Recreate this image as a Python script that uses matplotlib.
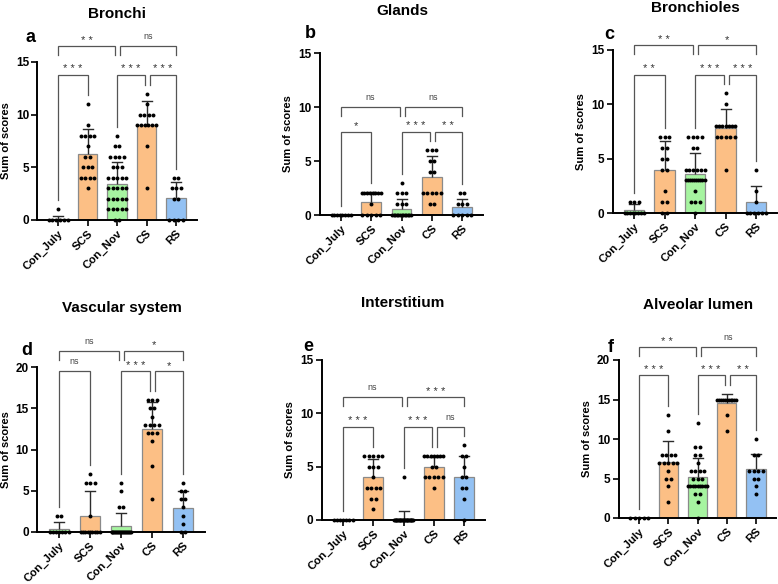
import matplotlib
matplotlib.use('Agg')
import matplotlib.pyplot as plt
import numpy as np
from collections import Counter

plt.rcParams['font.family'] = ['Liberation Sans', 'DejaVu Sans']

W, H, DPI = 778, 584, 100

groups = ['Con_July', 'SCS', 'Con_Nov', 'CS', 'RS']
bar_colors = ['#A6F4A0', '#FCBF85', '#A6F4A0', '#FCBF85', '#93C1F3']

# ---------------- data ----------------
bronchi_title = 'Bronchi'
bronchi_points = [
    [1, 0, 0, 0, 0, 0, 0],
    [11, 9, 8, 8, 8, 8, 7, 6, 6, 5, 5, 5, 4, 4, 4, 4, 3],
    [8, 7, 7, 6, 6, 6, 6, 5, 5, 5, 4, 4, 4, 4, 4, 3, 3, 3, 3, 3,
     2, 2, 2, 2, 2, 1, 1, 1, 1, 1, 0, 0],
    [12, 11, 10, 10, 10, 10, 9, 9, 9, 9, 9, 9, 7, 3],
    [4, 4, 3, 3, 3, 2, 2, 0, 0, 0, 0],
]
bronchi_mean = [0.13, 6.3, 3.4, 9.05, 2.1]
bronchi_sd = [0.27, 2.3, 2.15, 2.2, 1.55]
bronchi_sig_low = [(0, 1, '***'), (2, 3, '***'), (3, 4, '***')]
bronchi_sig_top = [(0, 2, '**'), (2, 4, 'ns')]

glands_title = 'Glands'
glands_points = [
    [0, 0, 0, 0, 0, 0, 0, 0],
    [2, 2, 2, 2, 2, 2, 2, 2, 1, 0, 0, 0, 0, 0],
    [3, 2, 2, 2, 1, 1, 1, 0, 0, 0, 0, 0, 0, 0, 0, 0, 0, 0, 0, 0],
    [6, 6, 6, 5, 5, 4, 4, 2, 2, 2, 2, 2, 1, 1],
    [2, 2, 1, 1, 1, 0, 0, 0, 0, 0],
]
glands_mean = [0.0, 1.23, 0.6, 3.5, 0.7]
glands_sd = [0.0, 0.87, 0.88, 2.0, 0.8]
glands_sig_low = [(0, 1, '*'), (2, 3, '***'), (3, 4, '**')]
glands_sig_top = [(0, 2, 'ns'), (2, 4, 'ns')]

bronchioles_title = 'Bronchioles'
bronchioles_points = [
    [1, 1, 1, 0, 0, 0, 0, 0, 0, 0, 0],
    [7, 7, 7, 6, 6, 5, 5, 4, 4, 2, 1, 1, 0, 0],
    [7, 7, 7, 7, 6, 6, 4, 4, 4, 4, 4, 4, 3, 3, 3, 3, 3, 3, 3, 3, 3, 3,
     2, 1, 1, 1, 0],
    [11, 10, 8, 8, 8, 8, 8, 8, 8, 7, 7, 7, 7, 7, 4],
    [4, 2, 1, 0, 0, 0, 0, 0, 0],
]
bronchioles_mean = [0.28, 3.93, 3.6, 7.85, 1.0]
bronchioles_sd = [0.52, 2.67, 1.95, 1.69, 1.5]
bronchioles_sig_low = [(0, 1, '**'), (2, 3, '***'), (3, 4, '***')]
bronchioles_sig_top = [(0, 2, '**'), (2, 4, '*')]

vascular_title = 'Vascular system'
vascular_points = [
    [2, 2, 0, 0, 0, 0, 0, 0, 0],
    [7, 6, 6, 6, 2, 0, 0, 0, 0, 0, 0, 0, 0, 0],
    [6, 5, 3, 3, 0, 0, 0, 0, 0, 0, 0, 0, 0, 0, 0, 0, 0, 0, 0, 0, 0, 0, 0, 0, 0],
    [16, 16, 16, 15, 15, 14, 13, 13, 13, 13, 12, 12, 12, 11, 8, 4],
    [6, 5, 5, 4, 4, 3, 2, 1, 0, 0],
]
vascular_mean = [0.4, 1.93, 0.68, 12.48, 2.87]
vascular_sd = [0.85, 3.0, 1.66, 3.3, 2.06]
vascular_sig_low = [(0, 1, 'ns'), (2, 3, '***'), (3, 4, '*')]
vascular_sig_top = [(0, 2, 'ns'), (2, 4, '*')]

interstitium_title = 'Interstitium'
interstitium_points = [
    [0, 0, 0, 0, 0, 0, 0],
    [6, 6, 6, 6, 6, 5, 5, 5, 4, 3, 3, 3, 3, 2, 2, 1],
    [4, 0, 0, 0, 0, 0, 0, 0, 0, 0, 0, 0, 0, 0, 0, 0, 0, 0, 0, 0, 0, 0, 0, 0, 0, 0],
    [6, 6, 6, 6, 6, 6, 6, 5, 5, 4, 4, 4, 4, 4, 3],
    [7, 6, 6, 5, 4, 4, 3, 3, 2, 0],
]
interstitium_mean = [0.0, 4.05, 0.12, 5.0, 4.0]
interstitium_sd = [0.0, 1.65, 0.7, 0.95, 2.0]
interstitium_sig_low = [(0, 1, '***'), (2, 3, '***'), (3, 4, 'ns')]
interstitium_sig_top = [(0, 2, 'ns'), (2, 4, '***')]

alveolar_title = 'Alveolar lumen'
alveolar_points = [
    [0, 0, 0, 0, 0],
    [13, 11, 8, 8, 8, 8, 7, 7, 7, 7, 7, 6, 5, 5, 4, 2],
    [12, 9, 9, 8, 8, 7, 6, 6, 6, 6, 5, 5, 5, 4, 4, 4, 4, 4, 4, 4, 4, 4,
     3, 3, 2, 0],
    [15, 15, 15, 15, 15, 15, 15, 15, 15, 15, 15, 13, 11],
    [10, 8, 8, 6, 6, 6, 6, 5, 5, 4, 3],
]
alveolar_mean = [0.0, 7.05, 5.23, 14.56, 6.15]
alveolar_sd = [0.0, 2.7, 2.37, 1.15, 2.0]
alveolar_sig_low = [(0, 1, '***'), (2, 3, '***'), (3, 4, '**')]
alveolar_sig_top = [(0, 2, '**'), (2, 4, 'ns')]

# ---------------- layout (pixels) ----------------
panels = [
    dict(letter='a', title=bronchi_title, pts=bronchi_points, mean=bronchi_mean, sd=bronchi_sd,
         low=bronchi_sig_low, top=bronchi_sig_top, ymax=15, yticks=[0, 5, 10, 15],
         c0=58, sp=29.5, y0=220, ytop=62, low_y=13.8, top_y=16.5,
         title_xy=(117, 14), letter_xy=(30, 42)),
    dict(letter='b', title=glands_title, pts=glands_points, mean=glands_mean, sd=glands_sd,
         low=glands_sig_low, top=glands_sig_top, ymax=15, yticks=[0, 5, 10, 15],
         c0=341, sp=30.25, y0=215, ytop=53, low_y=7.7, top_y=10.0,
         title_xy=(402, 11), letter_xy=(310, 38)),
    dict(letter='c', title=bronchioles_title, pts=bronchioles_points, mean=bronchioles_mean,
         sd=bronchioles_sd, low=bronchioles_sig_low, top=bronchioles_sig_top, ymax=15,
         yticks=[0, 5, 10, 15], c0=634, sp=30.5, y0=213, ytop=50, low_y=12.7, top_y=15.45,
         title_xy=(695, 8), letter_xy=(609, 39)),
    dict(letter='d', title=vascular_title, pts=vascular_points, mean=vascular_mean, sd=vascular_sd,
         low=vascular_sig_low, top=vascular_sig_top, ymax=20, yticks=[0, 5, 10, 15, 20],
         c0=59, sp=31, y0=532, ytop=367, low_y=19.5, top_y=22.0,
         title_xy=(122, 308), letter_xy=(27, 355)),
    dict(letter='e', title=interstitium_title, pts=interstitium_points, mean=interstitium_mean,
         sd=interstitium_sd, low=interstitium_sig_low, top=interstitium_sig_top, ymax=15,
         yticks=[0, 5, 10, 15], c0=343, sp=30.25, y0=520, ytop=360, low_y=8.75, top_y=11.5,
         title_xy=(403, 303), letter_xy=(308, 351)),
    dict(letter='f', title=alveolar_title, pts=alveolar_points, mean=alveolar_mean, sd=alveolar_sd,
         low=alveolar_sig_low, top=alveolar_sig_top, ymax=20, yticks=[0, 5, 10, 15, 20],
         c0=639, sp=29.25, y0=518, ytop=360, low_y=18.1, top_y=21.6,
         title_xy=(698, 305), letter_xy=(611, 352)),
]

fig = plt.figure(figsize=(W / DPI, H / DPI), dpi=DPI)
fig.patch.set_facecolor('white')

XL, XR = -0.7, 4.7
BAR_W = 0.66
LINE_C = '#555555'

for p in panels:
    sp = p['sp']
    left_px = p['c0'] + XL * sp
    width_px = (XR - XL) * sp
    h_px = p['y0'] - p['ytop']
    ax = fig.add_axes([left_px / W, 1 - p['y0'] / H, width_px / W, h_px / H])
    ax.set_xlim(XL, XR)
    ax.set_ylim(0, p['ymax'])
    ux = 1.0 / sp                 # data units per pixel (x)
    uy = p['ymax'] / h_px         # data units per pixel (y)
    x = np.arange(len(groups))

    ax.bar(x, p['mean'], width=BAR_W, color=bar_colors, edgecolor='#8a8a8a',
           linewidth=0.9, zorder=2)
    # upper SD error bars
    for i in range(len(groups)):
        m, s = p['mean'][i], p['sd'][i]
        if s > 0:
            ax.plot([i, i], [m, m + s], color='#2b2b2b', lw=1.0, zorder=3, solid_capstyle='butt')
            ax.plot([i - 5 * ux, i + 5 * ux], [m + s, m + s], color='#2b2b2b', lw=1.0, zorder=3)
    # scatter points (rows of equal values spread horizontally)
    for i, vals in enumerate(p['pts']):
        cnt = Counter(vals)
        xs, ys = [], []
        for v, n in cnt.items():
            step = 4.5 if n <= 1 else min(4.5, 19.0 / (n - 1))
            for k in range(n):
                xs.append(i + (k - (n - 1) / 2) * step * ux)
                ys.append(v)
        ax.scatter(xs, ys, s=8, color='black', zorder=4, clip_on=False, linewidths=0)

    # spines / ticks
    for side in ['top', 'right']:
        ax.spines[side].set_visible(False)
    for side in ['left', 'bottom']:
        ax.spines[side].set_linewidth(1.4)
    ax.set_yticks(p['yticks'])
    ax.set_yticklabels([str(t) for t in p['yticks']], fontsize=8.5, fontweight='bold')
    ax.set_xticks(x)
    ax.set_xticklabels(groups, rotation=45, ha='right', rotation_mode='anchor',
                       fontsize=8.2, fontweight='bold')
    ax.tick_params(axis='both', direction='out', length=4, width=1.2, pad=2)
    ax.tick_params(axis='x', pad=2)
    ax.set_ylabel('Sum of scores', fontsize=8, fontweight='bold')
    ax.yaxis.set_label_coords(-26.5 / width_px, 0.5)

    # significance brackets
    gap = 9 * uy
    def leg_end(g):
        return max(max(p['pts'][g]), p['mean'][g] + p['sd'][g]) + gap

    for level, yb, longlegs in [(p['low'], p['low_y'], True), (p['top'], p['top_y'], False)]:
        rights = [b for (_, b, _) in level]
        lefts = [a for (a, _, _) in level]
        for (a, b, lab) in level:
            xa, xb = float(a), float(b)
            if a in rights:
                xa += 3 * ux
            if b in lefts:
                xb -= 2 * ux
            if longlegs:
                ya = min(leg_end(a), yb - 4 * uy)
                ybb = min(leg_end(b), yb - 4 * uy)
            else:
                ya = ybb = yb - 9 * uy
            ax.plot([xa, xa, xb, xb], [ya, yb, yb, ybb], color=LINE_C, lw=0.9,
                    clip_on=False, zorder=1, solid_joinstyle='miter')
            if lab == 'ns':
                ax.text((xa + xb) / 2, yb + 7 * uy, 'ns', ha='center', va='baseline',
                        fontsize=6.5, color='#444444')
            else:
                ax.text((xa + xb) / 2, yb + 2.5 * uy, ' '.join(lab), ha='center', va='baseline',
                        fontsize=8, color='#333333')

    fig.text(p['title_xy'][0] / W, 1 - p['title_xy'][1] / H, p['title'], ha='center',
             va='center', fontsize=11, fontweight='bold')
    fig.text(p['letter_xy'][0] / W, 1 - p['letter_xy'][1] / H, p['letter'], ha='center',
             va='baseline', fontsize=13, fontweight='bold')

fig.savefig('out.png', dpi=DPI, facecolor='white')
